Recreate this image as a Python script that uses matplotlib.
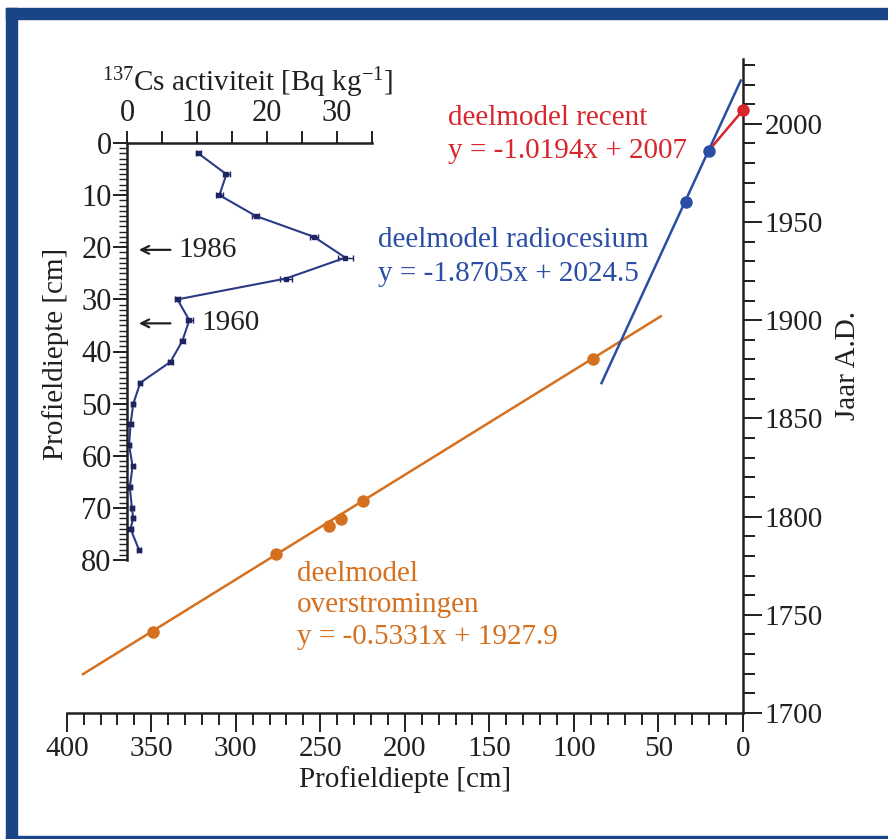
import matplotlib
matplotlib.use("Agg")
import numpy as np
import matplotlib.pyplot as plt
from matplotlib.patches import Rectangle
from matplotlib.ticker import MultipleLocator, FixedLocator

plt.rcParams['font.family'] = ['Liberation Serif', 'DejaVu Serif']
plt.rcParams['mathtext.fontset'] = 'custom'
plt.rcParams['mathtext.rm'] = 'Liberation Serif'
plt.rcParams['mathtext.it'] = 'Liberation Serif:italic'

# --- data: leeftijd-diepte model ---
diepte_overstroming = [349, 276, 245, 238, 225, 89]
jaar_overstroming = [1741, 1781, 1795, 1799, 1808, 1880]
fit_overstroming_x = [391, 48]
coef_overstroming = (-0.5331, 1927.9)

diepte_cs = [34, 20]
jaar_cs = [1960, 1986]
fit_cs_x = [84, 1]
coef_cs = (-1.8705, 2024.5)

diepte_recent = [0]
jaar_recent = [2007]
fit_recent_x = [20, 0]
coef_recent = (-1.0194, 2007)

# --- data: 137Cs profiel ---
cs_diepte = [2, 6, 10, 14, 18, 22, 26, 30, 34, 38, 42, 46, 50, 54, 58, 62, 66, 70, 72, 74, 78]
cs_activiteit = [10.2, 14.2, 13.2, 18.4, 26.7, 31.2, 22.7, 7.2, 8.9, 7.9, 6.2, 1.9,
                 0.9, 0.5, 0.3, 0.8, 0.4, 0.7, 0.9, 0.5, 1.7]
cs_fout = [0.4, 0.5, 0.5, 0.5, 0.6, 1.1, 0.8, 0.4, 0.5, 0.4, 0.4, 0.3,
           0.3, 0.3, 0.3, 0.3, 0.3, 0.3, 0.3, 0.3, 0.3]

ORANJE = '#d5701f'
BLAUW = '#2a4ea3'
ROOD = '#d7262e'
ZWART = '#231f20'
RAND = '#1a4488'


def fitlijn(xs, coef):
    xs = np.array(xs, dtype=float)
    return xs, coef[0] * xs + coef[1]


fig = plt.figure(figsize=(8.88, 8.39), dpi=100)
fig.patch.set_facecolor('white')

# blauwe kader
W, H = 888.0, 839.0
fig.add_artist(Rectangle((6 / W, 0), 11 / W, (H - 8) / H, transform=fig.transFigure, color=RAND, zorder=10))
fig.add_artist(Rectangle((6 / W, (H - 19) / H), 1, 11 / H, transform=fig.transFigure, color=RAND, zorder=10))
fig.add_artist(Rectangle((6 / W, 0), 1, 3 / H, transform=fig.transFigure, color=RAND, zorder=10))

# hoofdgrafiek
ax = fig.add_axes([66.7 / W, (H - 713) / H, (743 - 66.7) / W, (713 - 59) / H])
ax.patch.set_alpha(0)
ax.set_xlim(400, 0)
ax.set_ylim(1700, 2033)
for s in ['top', 'left']:
    ax.spines[s].set_visible(False)
for s in ['bottom', 'right']:
    ax.spines[s].set_linewidth(1.8)
    ax.spines[s].set_color(ZWART)
ax.yaxis.tick_right()
ax.xaxis.set_major_locator(MultipleLocator(50))
ax.xaxis.set_minor_locator(MultipleLocator(10))
ax.yaxis.set_major_locator(MultipleLocator(50))
ax.yaxis.set_minor_locator(MultipleLocator(10))
ax.tick_params(which='major', direction='out', length=13.5, width=1.4, color=ZWART,
               labelsize=21, labelcolor=ZWART)
ax.tick_params(which='minor', direction='out', length=8.5, width=1.4, color=ZWART)
ax.tick_params(axis='x', which='major', pad=3)
ax.tick_params(axis='y', which='major', pad=2)

x, y = fitlijn(fit_overstroming_x, coef_overstroming)
ax.plot(x, y, color=ORANJE, lw=1.8, solid_capstyle='butt')
ax.plot(diepte_overstroming, jaar_overstroming, 'o', color=ORANJE, ms=9, mec='none')

x, y = fitlijn(fit_cs_x, coef_cs)
ax.plot(x, y, color=BLAUW, lw=1.8, solid_capstyle='butt')
x, y = fitlijn(fit_recent_x, coef_recent)
ax.plot(x, y, color=ROOD, lw=1.8, solid_capstyle='butt')
ax.plot(diepte_cs, jaar_cs, 'o', color=BLAUW, ms=9, mec='none', zorder=4)
ax.plot(diepte_recent, jaar_recent, 'o', color=ROOD, ms=9, mec='none', zorder=4, clip_on=False)

ax.text(174.5, 2003.0, 'deelmodel recent', color=ROOD, fontsize=21, ha='left', va='center')
ax.text(174.5, 1986.0, 'y = -1.0194x + 2007', color=ROOD, fontsize=21, ha='left', va='center')
ax.text(215.8, 1941.0, 'deelmodel radiocesium', color=BLAUW, fontsize=21, ha='left', va='center')
ax.text(215.8, 1923.4, 'y = -1.8705x + 2024.5', color=BLAUW, fontsize=21, ha='left', va='center')
ax.text(263.7, 1771.0, 'deelmodel', color=ORANJE, fontsize=21, ha='left', va='center')
ax.text(263.7, 1754.8, 'overstromingen', color=ORANJE, fontsize=21, ha='left', va='center')
ax.text(263.7, 1738.6, 'y = -0.5331x + 1927.9', color=ORANJE, fontsize=21, ha='left', va='center')

ax.text(0.5, -0.081, 'Profieldiepte [cm]', transform=ax.transAxes, fontsize=21,
        ha='center', va='top', color=ZWART)
ax.text(1.155, 0.532, 'Jaar A.D.', transform=ax.transAxes, fontsize=21, rotation=90,
        ha='center', va='center', color=ZWART)

# inzet: 137Cs profiel
ax2 = fig.add_axes([127 / W, (H - 560) / H, 245 / W, (560 - 143) / H])
ax2.patch.set_alpha(0)
ax2.set_xlim(0, 35)
ax2.set_ylim(80, 0)
for s in ['right', 'bottom']:
    ax2.spines[s].set_visible(False)
for s in ['top', 'left']:
    ax2.spines[s].set_linewidth(1.8)
    ax2.spines[s].set_color(ZWART)
ax2.xaxis.tick_top()
ax2.xaxis.set_major_locator(FixedLocator([0, 10, 20, 30]))
ax2.xaxis.set_minor_locator(FixedLocator([5, 15, 25, 35]))
ax2.yaxis.set_major_locator(MultipleLocator(10))
ax2.yaxis.set_minor_locator(MultipleLocator(1))
ax2.tick_params(axis='x', which='both', direction='out', length=8.5, width=1.4, color=ZWART)
ax2.tick_params(axis='x', which='major', labelsize=22, pad=2, labelcolor=ZWART)
ax2.tick_params(axis='y', which='major', direction='out', length=10, width=1.4,
                color=ZWART, labelsize=22, pad=1, labelcolor=ZWART)
ax2.tick_params(axis='y', which='minor', direction='out', length=5.5, width=1.0, color=ZWART)

ax2.errorbar(cs_activiteit, cs_diepte, xerr=cs_fout, color='#2b3a86', lw=1.5,
             marker='s', ms=3, mfc='#1c2560', mec='#1c2560', ecolor='#1c2560',
             elinewidth=1.0, capsize=2)

ax2.annotate('', xy=(1.3, 20.5), xytext=(6.6, 20.5),
             arrowprops=dict(arrowstyle='->', color=ZWART, lw=1.6, mutation_scale=14))
ax2.text(7.4, 20.5, '1986', fontsize=21, ha='left', va='center', color=ZWART)
ax2.annotate('', xy=(1.3, 34.6), xytext=(6.6, 34.6),
             arrowprops=dict(arrowstyle='->', color=ZWART, lw=1.6, mutation_scale=14))
ax2.text(10.7, 34.6, '1960', fontsize=21, ha='left', va='center', color=ZWART)

ax2.text(0.49, 1.145, r'$^{137}$Cs activiteit [Bq kg$^{\mathregular{-1}}$]', transform=ax2.transAxes,
         fontsize=21, ha='center', va='center', color=ZWART)
ax2.text(-0.29, 0.494, 'Profieldiepte [cm]', transform=ax2.transAxes, fontsize=21,
         rotation=90, ha='center', va='center', color=ZWART)

fig.savefig('out.png', dpi=100)
